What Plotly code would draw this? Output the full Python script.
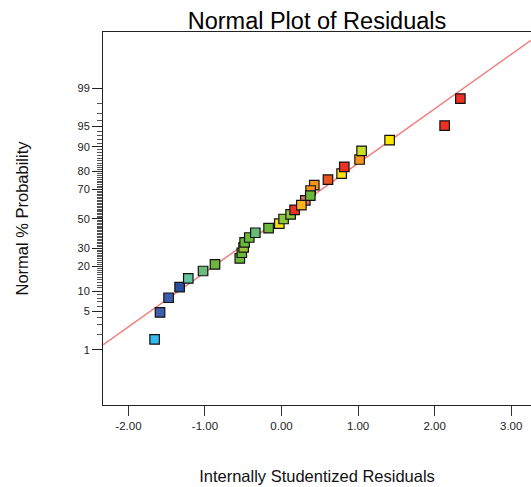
import plotly.graph_objects as go
from statistics import NormalDist

# ---- data (residuals, listed in drawing order) ----
residuals = [0.311, -1.658, -1.587, -1.475, -1.331, -1.218, -1.025, -0.869,
             -0.545, -0.519, -0.495, -0.482, -0.421, -0.342, -0.169, -0.029,
             0.027, 0.119, 0.171, 0.259, 0.428, 0.380, 0.376, 0.607,
             0.785, 0.820, 1.020, 1.046, 1.412, 2.131, 2.336]
point_colors = ["#D9736B", "#33BBEE", "#3D5FAE", "#3D5FAE", "#2D4C9C", "#66C4A0",
                "#6DBB7A", "#6CB83A", "#6CB83A", "#6CB83A", "#9CC23A", "#6CB83A",
                "#6CB83A", "#66BB77", "#6DBA3A", "#F7E21A", "#8DC63F", "#8DC63F",
                "#EE3124", "#FFB21A", "#F7941D", "#F7941D", "#6CB83A", "#E8541E",
                "#FFE11A", "#EE3124", "#F7941D", "#C8DC2A", "#FFE600", "#EE3124",
                "#EE3124"]

# fitted reference line (mean, sd of residuals)
line_mean = -0.02
line_sd = 1.032

x_range = [-2.332, 3.259]
y_range = [-3.307, 3.324]

major_pct = [1, 5, 10, 20, 30, 50, 70, 80, 90, 95, 99]
minor_pct = [p for p in range(1, 100) if p not in major_pct]

nd = NormalDist()
n = len(residuals)
order = sorted(range(n), key=lambda i: residuals[i])
rank = [0] * n
for r, i in enumerate(order):
    rank[i] = r + 1
z_vals = [nd.inv_cdf((rank[i] - 0.5) / n) for i in range(n)]

fig = go.Figure()
fig.add_trace(go.Scatter(
    x=x_range,
    y=[(v - line_mean) / line_sd for v in x_range],
    mode="lines", line=dict(color="#F08080", width=1.5),
    hoverinfo="skip", showlegend=False, cliponaxis=True))
fig.add_trace(go.Scatter(
    x=residuals, y=z_vals, mode="markers",
    marker=dict(symbol="square", size=9.5, color=point_colors,
                line=dict(color="#111111", width=1.2)),
    showlegend=False, cliponaxis=False))

font_family = "Liberation Sans, Arial, sans-serif"
fig.update_layout(
    width=531, height=487,
    margin=dict(l=103, r=0, t=32, b=82),
    paper_bgcolor="white", plot_bgcolor="white",
    font=dict(family=font_family, color="#111111"),
    title=dict(text="Normal Plot of Residuals", x=0.5, xref="paper",
               y=1 - 20.5 / 487, yref="container", yanchor="middle",
               font=dict(size=23.5, color="#000000", family=font_family)),
    xaxis=dict(range=x_range, tickvals=[-2, -1, 0, 1, 2, 3],
               ticktext=["-2.00", "-1.00", "0.00", "1.00", "2.00", "3.00"],
               ticks="outside", ticklen=10, tickwidth=1, tickcolor="#333333",
               showline=True, linecolor="#222222", linewidth=1, mirror=True,
               showgrid=False, zeroline=False,
               tickfont=dict(size=11.5, color="#222222"),
               title=dict(text="Internally Studentized Residuals",
                          font=dict(size=16.5, color="#111111"), standoff=39)),
    yaxis=dict(range=y_range,
               tickvals=[nd.inv_cdf(p / 100) for p in major_pct],
               ticktext=[str(p) for p in major_pct],
               ticks="outside", ticklen=10, tickwidth=1, tickcolor="#222222",
               showline=True, linecolor="#222222", linewidth=1,
               showgrid=False, zeroline=False,
               tickfont=dict(size=11, color="#222222"),
               minor=dict(tickmode="array",
                          tickvals=[nd.inv_cdf(p / 100) for p in minor_pct],
                          ticks="outside", ticklen=5, tickwidth=1,
                          tickcolor="#555555", showgrid=False),
               title=dict(text="Normal % Probability",
                          font=dict(size=16.5, color="#111111"), standoff=44)),
)

fig.write_html("out.html",
               config={"displayModeBar": False},
               post_script="document.body.style.margin='0';"
                           "document.body.style.overflow='hidden';")
